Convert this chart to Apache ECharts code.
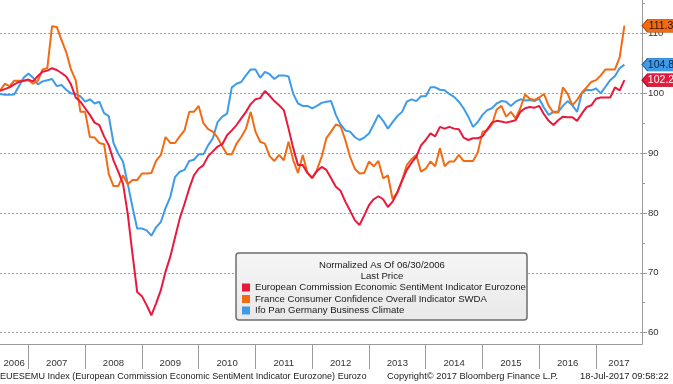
<!DOCTYPE html>
<html><head><meta charset="utf-8">
<script src="https://cdn.jsdelivr.net/npm/echarts@6/dist/echarts.min.js"></script>
<style>html,body{margin:0;padding:0;background:#fff}#c{width:673px;height:384px}</style>
</head><body><div id="c"></div>
<script>
// monthly observations, first one = end of June 2006
const startYear = 2006.5;
const xMin = 2006.5, xMax = 2017.81;
const yearTicks = [2007,2008,2009,2010,2011,2012,2013,2014,2015,2016,2017];
const yearLabels = [2006,2007,2008,2009,2010,2011,2012,2013,2014,2015,2016,2017];
const yTicks = [60,70,80,90,100,110];
const yMinorTicks = [65,75,85,95,105,115];

const seriesNames = [
  'European Commission Economic SentiMent Indicator Eurozone',
  'France Consumer Confidence Overall Indicator SWDA',
  'Ifo Pan Germany Business Climate'
];

const eurozone = [
100.4,100.7,101.0,101.5,101.9,102.1,102.3,102.0,102.9,103.6,
103.8,104.2,103.9,103.4,102.8,101.5,99.3,98.6,97.5,96.4,
95.1,94.7,92.8,91.3,88.8,86.9,84.9,79.9,73.2,66.8,
66.1,64.6,62.9,64.9,67.1,70.2,72.7,75.9,79.1,81.5,
84.1,86.3,87.4,88.0,89.5,90.3,91.1,91.5,93.0,93.8,
94.7,95.8,96.9,98.2,99.0,99.2,100.4,99.6,98.7,98.0,
97.2,94.1,90.8,88.0,88.0,86.7,85.9,87.0,87.7,87.2,
85.8,84.4,83.7,81.9,80.4,78.8,78.0,79.6,81.3,82.3,
82.8,82.3,81.0,81.9,83.4,85.4,87.2,88.4,89.4,91.3,
92.2,93.3,92.8,94.4,94.1,94.4,94.1,94.0,92.6,92.2,
92.5,92.5,92.8,94.0,95.1,95.4,95.3,95.1,95.3,95.5,
96.9,97.5,97.7,97.6,97.9,96.5,95.4,94.7,95.5,96.1,
96.0,96.0,95.4,96.6,97.7,98.0,99.1,99.3,99.3,99.3,
101.0,100.5,102.2];

const france = [
100.4,101.6,101.2,102.1,102.1,102.1,102.2,101.6,102.1,104.0,
104.2,111.2,111.1,108.9,106.9,104.0,102.2,96.9,96.9,92.7,
92.6,91.7,91.5,86.5,84.5,84.5,86.3,84.8,85.5,85.5,
86.6,86.6,86.7,88.7,89.7,92.7,91.7,91.7,92.8,93.8,
96.9,96.9,97.9,95.0,94.0,93.6,92.6,91.1,89.8,89.8,
91.6,92.7,94.1,96.9,93.6,91.9,91.6,89.5,88.7,89.7,
88.8,91.9,88.8,86.7,89.7,86.7,85.8,87.2,89.4,92.5,
93.6,94.8,94.5,92.2,89.4,87.4,86.6,86.7,88.6,87.8,
88.7,85.8,86.3,82.3,83.5,85.5,88.0,89.0,89.7,86.9,
87.4,88.6,87.8,90.8,87.8,88.6,88.6,89.7,88.7,88.7,
88.7,90.1,93.6,93.8,94.8,97.3,97.9,96.1,96.9,95.8,
97.5,99.8,99.1,98.9,99.3,99.9,97.9,96.8,96.8,101.0,
99.9,98.0,98.9,100.1,101.0,101.9,102.2,103.0,104.0,104.0,
104.0,106.0,111.3];

const ifo = [
99.9,99.75,99.75,99.8,101.2,102.6,103.3,102.6,101.5,102.0,
102.2,102.4,101.2,101.4,100.6,100.0,99.9,99.5,98.6,99.0,
98.3,98.6,96.7,96.2,91.7,89.9,88.6,84.9,81.0,77.4,
77.4,77.1,76.2,77.6,78.5,80.8,82.7,86.0,86.9,87.2,
88.7,88.9,89.8,89.8,91.3,92.5,95.2,96.1,96.6,101.0,
101.6,101.9,103.0,104.0,104.0,102.6,103.6,103.2,102.4,103.0,
103.0,102.8,99.9,98.3,97.9,97.9,97.5,97.9,98.4,98.6,
98.7,96.4,94.8,93.8,93.6,92.7,92.2,92.6,93.3,94.8,
96.4,95.4,94.1,95.2,96.2,96.9,98.6,99.0,98.7,99.5,
99.5,101.0,101.0,100.6,100.5,99.9,99.4,98.6,97.5,96.1,
94.4,95.2,96.4,97.2,97.5,98.3,98.7,98.6,97.9,98.6,
99.0,98.8,98.9,98.7,99.1,97.6,96.4,96.9,96.9,97.9,
98.7,98.0,96.9,100.0,100.6,100.5,100.8,100.0,101.1,102.2,
102.9,104.2,104.8];

const colors = ['#e8193c', '#f26b14', '#3f9be8'];
const badgeText = ['#ffffff', '#2a1400', '#0b2340'];
const badgeBorder = ['#a00f25', '#a84400', '#1d5f9c'];
const FONT = 'Liberation Sans, Arial, sans-serif';

function pairs(vals) { return vals.map((v, i) => [startYear + i / 12, v]); }

const labelPos = yearLabels.map(y => (Math.max(y, xMin) + Math.min(y + 1, xMax)) / 2);

const allData = [eurozone, france, ifo];
const order = [2, 1, 0]; // draw blue first, red on top

const series = order.map(k => {
  const vals = allData[k];
  const last = vals[vals.length - 1];
  return {
    name: seriesNames[k],
    type: 'line',
    data: pairs(vals),
    showSymbol: false,
    symbol: 'none',
    lineStyle: { width: 2, color: colors[k] },
    itemStyle: { color: colors[k] },
    z: 3 + (2 - k),
    animation: false,
    markPoint: {
      symbol: 'path://M0,6 L6,0 L40,0 L40,12 L6,12 Z',
      symbolSize: [38, 13],
      symbolOffset: [19, 0],
      symbolKeepAspect: false,
      itemStyle: { color: colors[k], borderColor: badgeBorder[k], borderWidth: 0.8 },
      label: { show: true, formatter: last.toFixed(1), color: badgeText[k], fontSize: 10.5, fontFamily: FONT, offset: [0, 0] },
      data: [{ coord: [xMax, last], value: last }],
      z: 10,
      animation: false
    }
  };
});

const chart = echarts.init(document.getElementById('c'), null, { renderer: 'canvas' });
chart.setOption({
  animation: false,
  backgroundColor: '#ffffff',
  grid: { left: 0, right: 31, top: 0, bottom: 40, containLabel: false },
  xAxis: {
    type: 'value', min: xMin, max: xMax,
    axisLine: { show: true, lineStyle: { color: '#9a9a9a', width: 1 } },
    axisTick: { show: true, customValues: yearTicks, length: 25, lineStyle: { color: '#9a9a9a' } },
    axisLabel: { show: true, customValues: labelPos, formatter: v => String(Math.floor(v)), color: '#333', fontSize: 9.6, fontFamily: FONT, margin: 14 },
    splitLine: { show: false }
  },
  yAxis: [{
    type: 'value', position: 'right', min: 58.1, max: 115.6,
    axisLine: { show: true, lineStyle: { color: '#9a9a9a', width: 1 } },
    axisTick: { show: true, customValues: yTicks, length: 5, lineStyle: { color: '#9a9a9a' } },
    axisLabel: { show: true, customValues: yTicks, color: '#333', fontSize: 9.6, fontFamily: FONT, margin: 6 },
    splitLine: { show: true, lineStyle: { color: '#a0a0a0', type: [2, 2], width: 1 } }
  }, {
    type: 'value', position: 'right', min: 58.1, max: 115.6,
    axisLine: { show: false },
    axisTick: { show: true, customValues: yMinorTicks, length: 3, lineStyle: { color: '#9a9a9a' } },
    axisLabel: { show: false },
    splitLine: { show: false }
  }],
  legend: {
    orient: 'vertical', left: 242, top: 282, padding: 0, itemGap: 0.5,
    itemWidth: 8, itemHeight: 8, icon: 'rect', z: 6,
    data: seriesNames,
    selectedMode: false,
    textStyle: { fontSize: 9.6, fontFamily: FONT, color: '#1a1a1a', lineHeight: 11 }
  },
  graphic: [
    { type: 'rect', z: 5, shape: { x: 236, y: 253, width: 291, height: 67, r: 3 },
      style: { fill: new echarts.graphic.LinearGradient(0, 0, 0, 1, [{offset: 0, color: '#f6f6f6'}, {offset: 1, color: '#e9e9e9'}]), stroke: '#6e6e6e', lineWidth: 1.5 } },
    { type: 'text', z: 6, style: { x: 382, y: 265, text: 'Normalized As Of 06/30/2006', align: 'center', verticalAlign: 'middle', fontSize: 9.6, fontFamily: FONT, fill: '#1a1a1a' } },
    { type: 'text', z: 6, style: { x: 382, y: 276.5, text: 'Last Price', align: 'center', verticalAlign: 'middle', fontSize: 9.6, fontFamily: FONT, fill: '#1a1a1a' } },
    { type: 'text', z: 6, style: { x: 0, y: 376, text: 'EUESEMU Index (European Commission Economic SentiMent Indicator Eurozone) Eurozo', align: 'left', verticalAlign: 'middle', fontSize: 9.1, fontFamily: FONT, fill: '#222' } },
    { type: 'text', z: 6, style: { x: 387, y: 376, text: 'Copyright\u00A9 2017 Bloomberg Finance L.P.', align: 'left', verticalAlign: 'middle', fontSize: 9.3, fontFamily: FONT, fill: '#222' } },
    { type: 'text', z: 6, style: { x: 580, y: 376, text: '18-Jul-2017 09:58:22', align: 'left', verticalAlign: 'middle', fontSize: 9.4, fontFamily: FONT, fill: '#222' } }
  ],
  series: series
});
</script>
</body></html>
